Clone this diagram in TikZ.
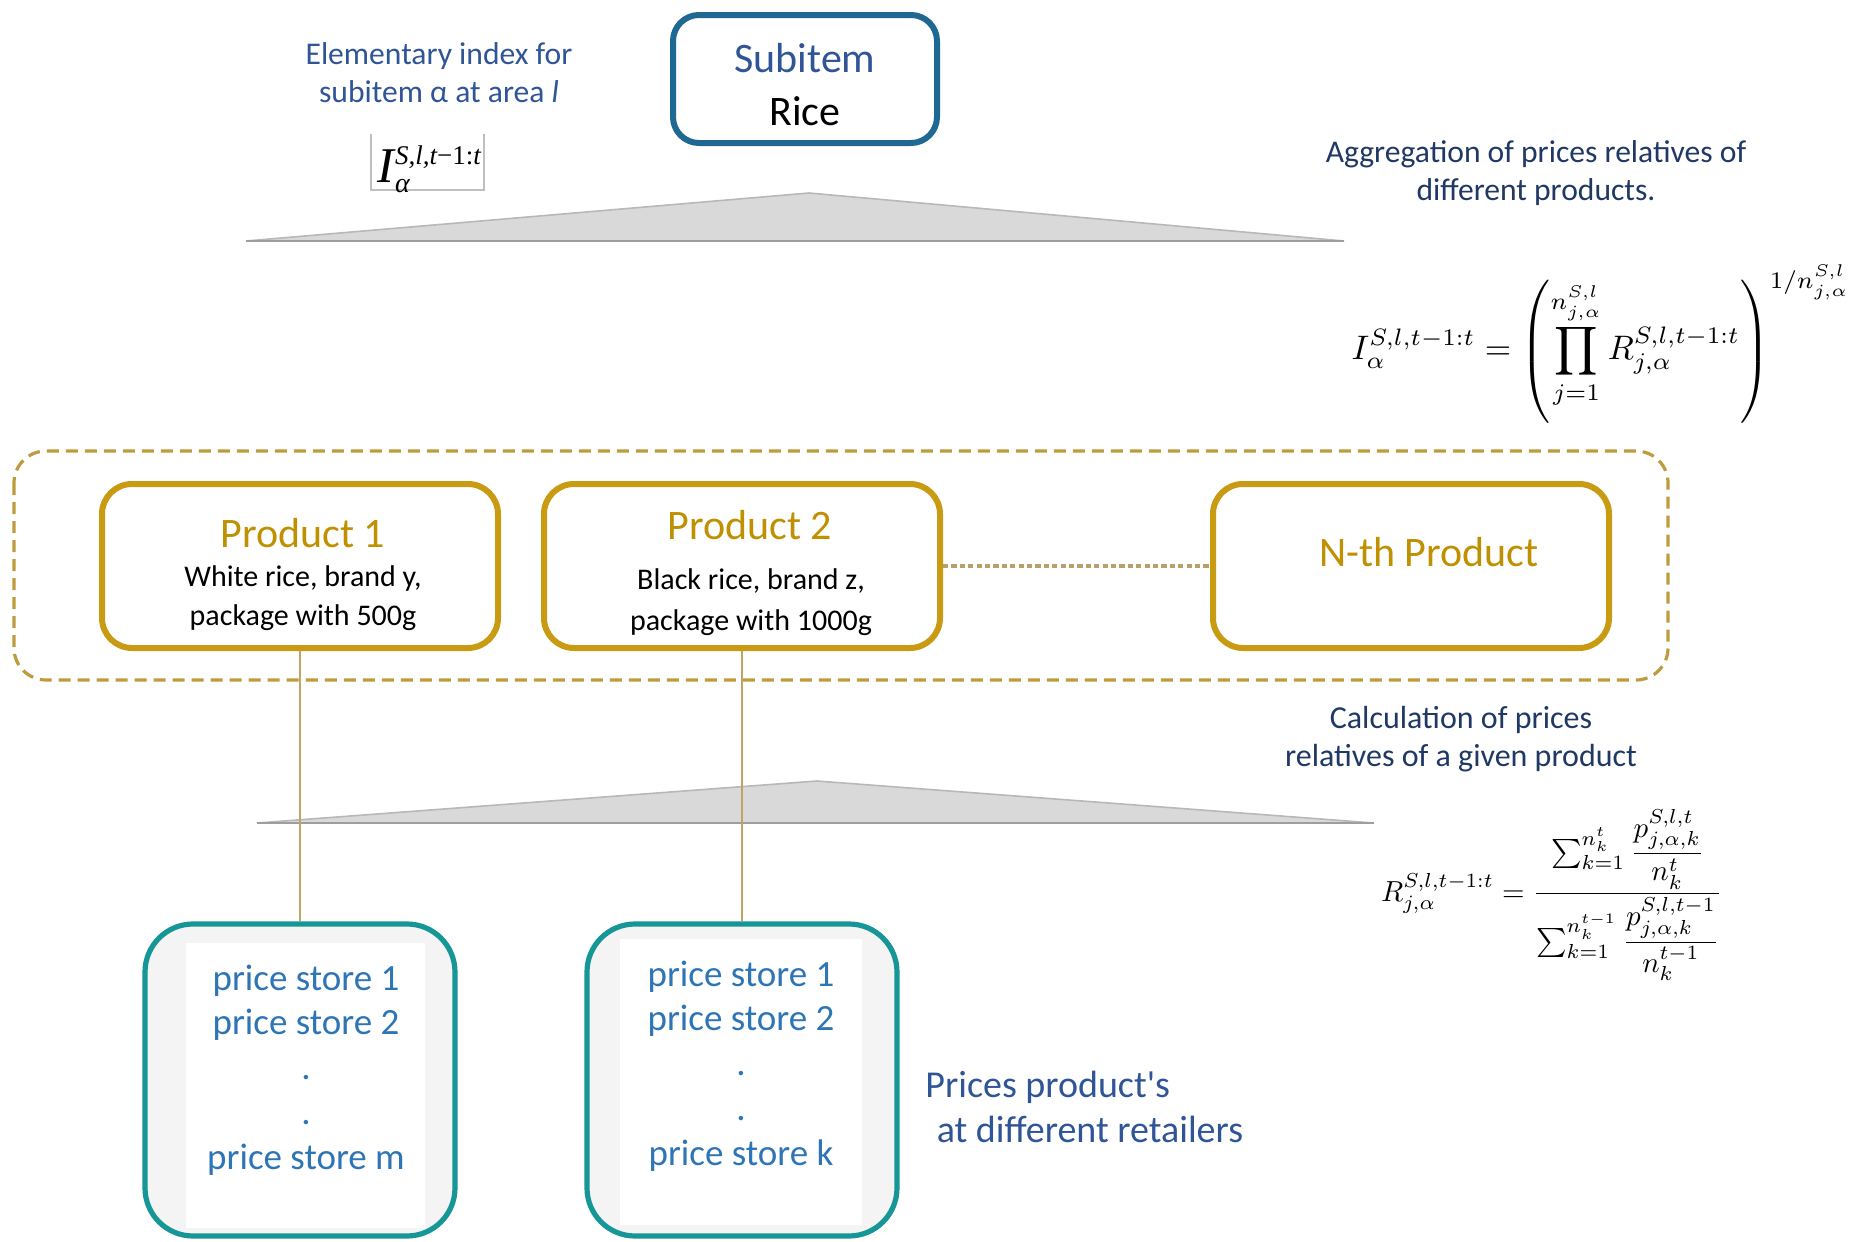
\documentclass[tikz,border=0pt]{standalone}
\usepackage{fontspec}
\setmainfont{Carlito}
\newfontfamily\plaincarlito{Carlito}[Ligatures=TeXOff]
\newfontfamily\tmsfont{Liberation Serif}
\usepackage{amsmath}
\definecolor{subitemblue}{RGB}{31,104,145}
\definecolor{titleblue}{RGB}{47,85,151}
\definecolor{navy}{RGB}{32,56,100}
\definecolor{gold}{RGB}{200,155,18}
\definecolor{goldtext}{RGB}{191,144,0}
\definecolor{golddash}{RGB}{190,155,60}
\definecolor{golddot}{RGB}{185,160,105}
\definecolor{goldline}{RGB}{190,165,100}
\definecolor{teal}{RGB}{22,150,150}
\definecolor{storeblue}{RGB}{46,117,182}
\definecolor{storebg}{RGB}{244,244,244}

\tikzset{
  subitembox/.style={draw=subitemblue, line width=3pt, rounded corners=13pt, fill=white,
    minimum width=132pt, minimum height=64pt, inner sep=0pt},
  prodbox/.style={draw=gold, line width=3pt, rounded corners=15pt, fill=white,
    minimum width=198pt, minimum height=82pt, inner sep=0pt},
  storebox/.style={draw=teal, line width=2.6pt, rounded corners=24pt, fill=storebg,
    minimum width=155pt, minimum height=156pt, inner sep=0pt},
  groupbox/.style={draw=golddash, line width=1.6pt, dash pattern=on 6pt off 3.5pt, rounded corners=16pt},
  wedge/.style={fill=black!15, draw=black!28, line width=0.8pt},
  wedgebase/.style={draw=black!38, line width=1.4pt},
  vline/.style={draw=goldline, line width=1.2pt},
  dotline/.style={draw=golddot, line width=1.6pt, dash pattern=on 2.6pt off 1.6pt},
  note/.style={align=center, font=\fontsize{15.8}{19}\selectfont, inner sep=0pt},
  prodtitle/.style={text=goldtext, font=\fontsize{21}{25}\selectfont, inner sep=0pt},
  proddesc/.style={align=center, font=\fontsize{15}{19.5}\selectfont, inner sep=0pt},
  storetext/.style={align=center, text=storeblue, font=\fontsize{18.5}{22.4}\selectfont, inner sep=0pt},
}

\begin{document}
\begin{tikzpicture}[x=0.5pt, y=-0.5pt]
\useasboundingbox (0,0) rectangle (1860,1242);

% ---- top level: the subitem and its elementary index
\node[subitembox] (sub) at (805,79) {};
\node[text=titleblue, font=\fontsize{21}{25}\selectfont, inner sep=0pt] (subt) at (805,58) {Subitem};
\node[font=\fontsize{21}{25}\selectfont, inner sep=0pt] (subr) at (805,111) {Rice};

\node[note, text=titleblue] (elem) at (439,73) {Elementary index for\\subitem α at area \textit{l}};
\draw[black!25, line width=0.6pt] (371,134) -- (371,190) -- (484,190) -- (484,134);
\node[inner sep=0pt, anchor=base west] (elemf) at (377,182)
  {\tmsfont\itshape\fontsize{25}{25}\selectfont I\kern0.5pt\rlap{\raisebox{-5pt}{\fontsize{14}{14}\selectfont α}}\raisebox{9pt}{\fontsize{13.5}{14}\selectfont S,l,t\upshape−1:\itshape t}};

% ---- aggregation wedge
\fill[wedge] (246,241) -- (809,193) -- (1344,241) -- cycle;
\draw[wedgebase] (246,241) -- (1344,241);

\node[note, text=navy] (agg) at (1536,173) {Aggregation of prices relatives of\\different products.};
\node[scale=1.7, inner sep=0pt] (aggf) at (1601,344)
  {$\displaystyle I_{\alpha}^{S,l,t-1:t}=\left(\prod_{j=1}^{n_{j,\alpha}^{S,l}} R_{j,\alpha}^{S,l,t-1:t}\right)^{1/n_{j,\alpha}^{S,l}}$};

% ---- products of the subitem
\draw[groupbox] (14,451) rectangle (1668,680);

\node[prodbox] (p1) at (300,566) {};
\node[prodtitle] (p1t) at (303,533) {Product 1};
\node[proddesc] (p1d) at (303,598) {White rice, brand y,\\package with 500g};

\node[prodbox] (p2) at (742,566) {};
\node[prodtitle] (p2t) at (750,525) {Product 2};
\node[proddesc, font=\fontsize{15}{20.5}\selectfont] (p2d) at (751,602) {Black rice, brand z,\\package with 1000g};

\node[prodbox] (pn) at (1411,566) {};
\node[prodtitle] (pnt) at (1429,552) {N-th Product};

\draw[dotline] (p2.east) -- (pn.west);

% ---- price relatives wedge
\fill[wedge] (257,823) -- (817,781) -- (1374,823) -- cycle;
\draw[wedgebase] (257,823) -- (1374,823);

\node[note, text=navy, font=\fontsize{16}{19}\selectfont] (calc) at (1461,739) {Calculation of prices\\relatives of a given product};
\node[scale=1.45, inner sep=0pt] (calcf) at (1552,895)
  {$\displaystyle R_{j,\alpha}^{S,l,t-1:t}=\frac{\sum_{k=1}^{n_k^{t}}\dfrac{p_{j,\alpha,k}^{S,l,t}}{n_k^{t}}}{\sum_{k=1}^{n_k^{t-1}}\dfrac{p_{j,\alpha,k}^{S,l,t-1}}{n_k^{t-1}}}$};

% ---- prices collected at the stores
\node[storebox] (s1) at (300,1080) {};
\fill[white] (186,943) rectangle (425,1228);
\node[storetext] (s1t) at (306,1070) {price store 1\\price store 2\\.\\.\\price store m};

\node[storebox] (s2) at (742,1080) {};
\fill[white] (620,939) rectangle (862,1225);
\node[storetext] (s2t) at (741,1066) {price store 1\\price store 2\\.\\.\\price store k};

\draw[vline] (p1.south) -- (s1.north);
\draw[vline] (p2.south) -- (s2.north);

\node[align=left, anchor=west, text=titleblue, font=\fontsize{19}{22.5}\selectfont, inner sep=0pt] (ret) at (925,1107)
  {Prices product{\plaincarlito'}s\\\hspace{0.3em}at different retailers};
\end{tikzpicture}
\end{document}
